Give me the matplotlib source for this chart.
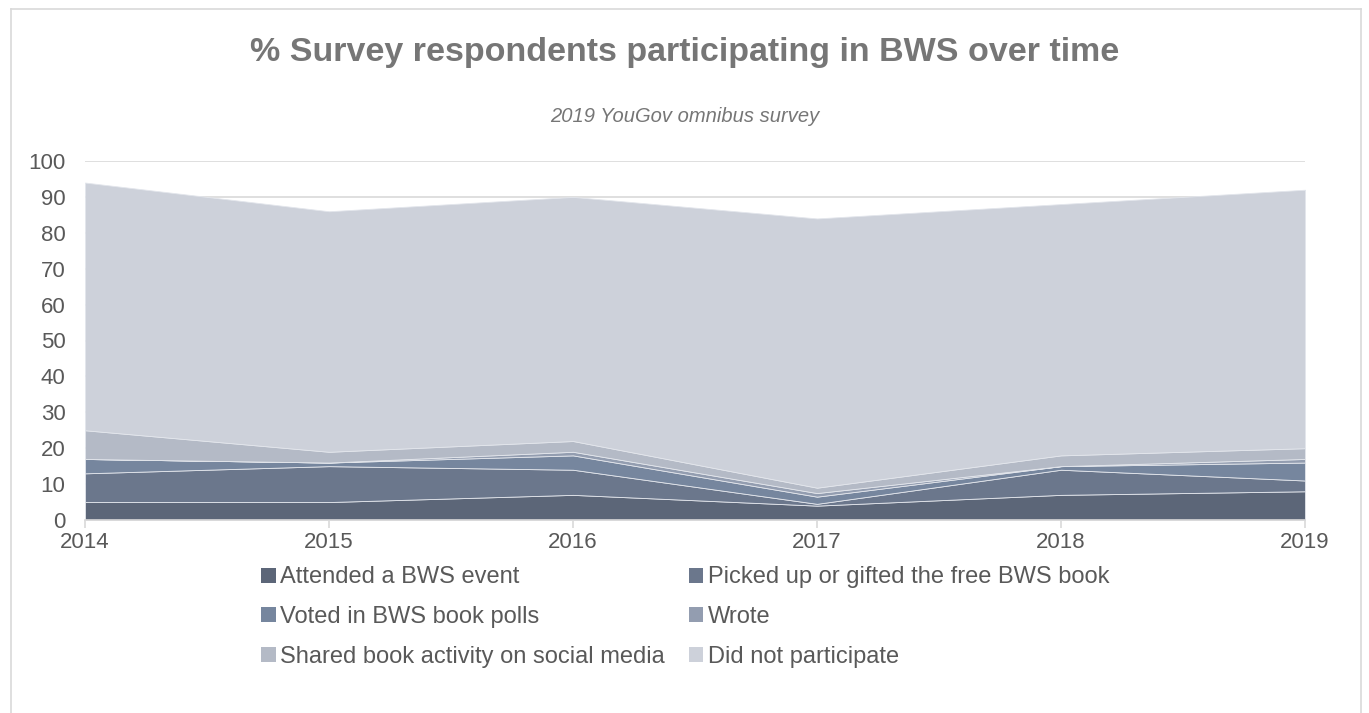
import matplotlib
matplotlib.use("Agg")
import matplotlib.pyplot as plt
from matplotlib.patches import Patch
from matplotlib.lines import Line2D

plt.rcParams['font.family'] = ['Liberation Sans', 'DejaVu Sans']

years = [2014, 2015, 2016, 2017, 2018, 2019]
attended = [5, 5, 7, 4, 7, 8]
picked_up = [8, 10, 7, 0.5, 7, 3]
voted = [4, 1, 4, 2, 1, 5]
wrote = [0, 0, 1, 1, 0, 1]
shared = [8, 3, 3, 1.5, 3, 3]
did_not = [69, 67, 68, 75, 70, 72]

series_labels = [
    "Attended a BWS event",
    "Picked up or gifted the free BWS book",
    "Voted in BWS book polls",
    "Wrote",
    "Shared book activity on social media",
    "Did not participate",
]
colors = ["#5c6678", "#6b778c", "#76869e", "#939db0", "#b4bac6", "#cdd1da"]

fig = plt.figure(figsize=(13.69, 7.13), dpi=100)
W, H = 1369, 713

# outer frame
frame_col = "#d9d9d9"
fig.add_artist(Line2D([11 / W, 11 / W], [0, 1 - 9 / H], color=frame_col, lw=1.2))
fig.add_artist(Line2D([11 / W, 1361 / W], [1 - 9 / H, 1 - 9 / H], color=frame_col, lw=1.2))
fig.add_artist(Line2D([1361 / W, 1361 / W], [0, 1 - 9 / H], color=frame_col, lw=1.2))

ax = fig.add_axes([85 / W, 1 - 520 / H, (1305 - 85) / W, (520 - 161) / H])

polys = ax.stackplot(years, attended, picked_up, voted, wrote, shared, did_not,
                     colors=colors, labels=series_labels, zorder=3)
for p in polys:
    p.set_edgecolor("#e3e6ec")
    p.set_linewidth(0.6)

ax.set_xlim(2014, 2019)
ax.set_ylim(0, 100)
ax.set_yticks(range(0, 101, 10))
ax.set_xticks(years)
ax.set_xticklabels([str(y) for y in years])
ax.yaxis.grid(True, color="#d9d9d9", lw=1.2, zorder=0)
ax.set_axisbelow(True)
for s in ("left", "right", "top"):
    ax.spines[s].set_visible(False)
ax.spines["bottom"].set_color("#d9d9d9")
ax.spines["bottom"].set_linewidth(1.2)
ax.spines["bottom"].set_zorder(4)
ax.tick_params(axis="y", length=0, pad=14, labelsize=16, labelcolor="#595959")
ax.tick_params(axis="x", length=6, width=1.2, color="#d9d9d9", pad=3,
               labelsize=16, labelcolor="#595959")

fig.text(0.5, 1 - 53 / H, "% Survey respondents participating in BWS over time",
         ha="center", va="center", fontsize=24.5, fontweight="bold", color="#767676")
fig.text(0.5, 1 - 116 / H, "2019 YouGov omnibus survey",
         ha="center", va="center", fontsize=14.5, style="italic", color="#767676")

handles = [Patch(facecolor=c, edgecolor="none") for c in colors]
order = [0, 2, 4, 1, 3, 5]
leg = fig.legend([handles[i] for i in order], [series_labels[i] for i in order],
                 ncol=2, loc="upper left", bbox_to_anchor=(252 / W, 1 - 557 / H),
                 frameon=False, fontsize=17, labelcolor="#595959",
                 handlelength=0.6, handleheight=0.6, handletextpad=0.2,
                 columnspacing=1.0, labelspacing=0.75, borderaxespad=0)

fig.savefig("out.png", dpi=100)
